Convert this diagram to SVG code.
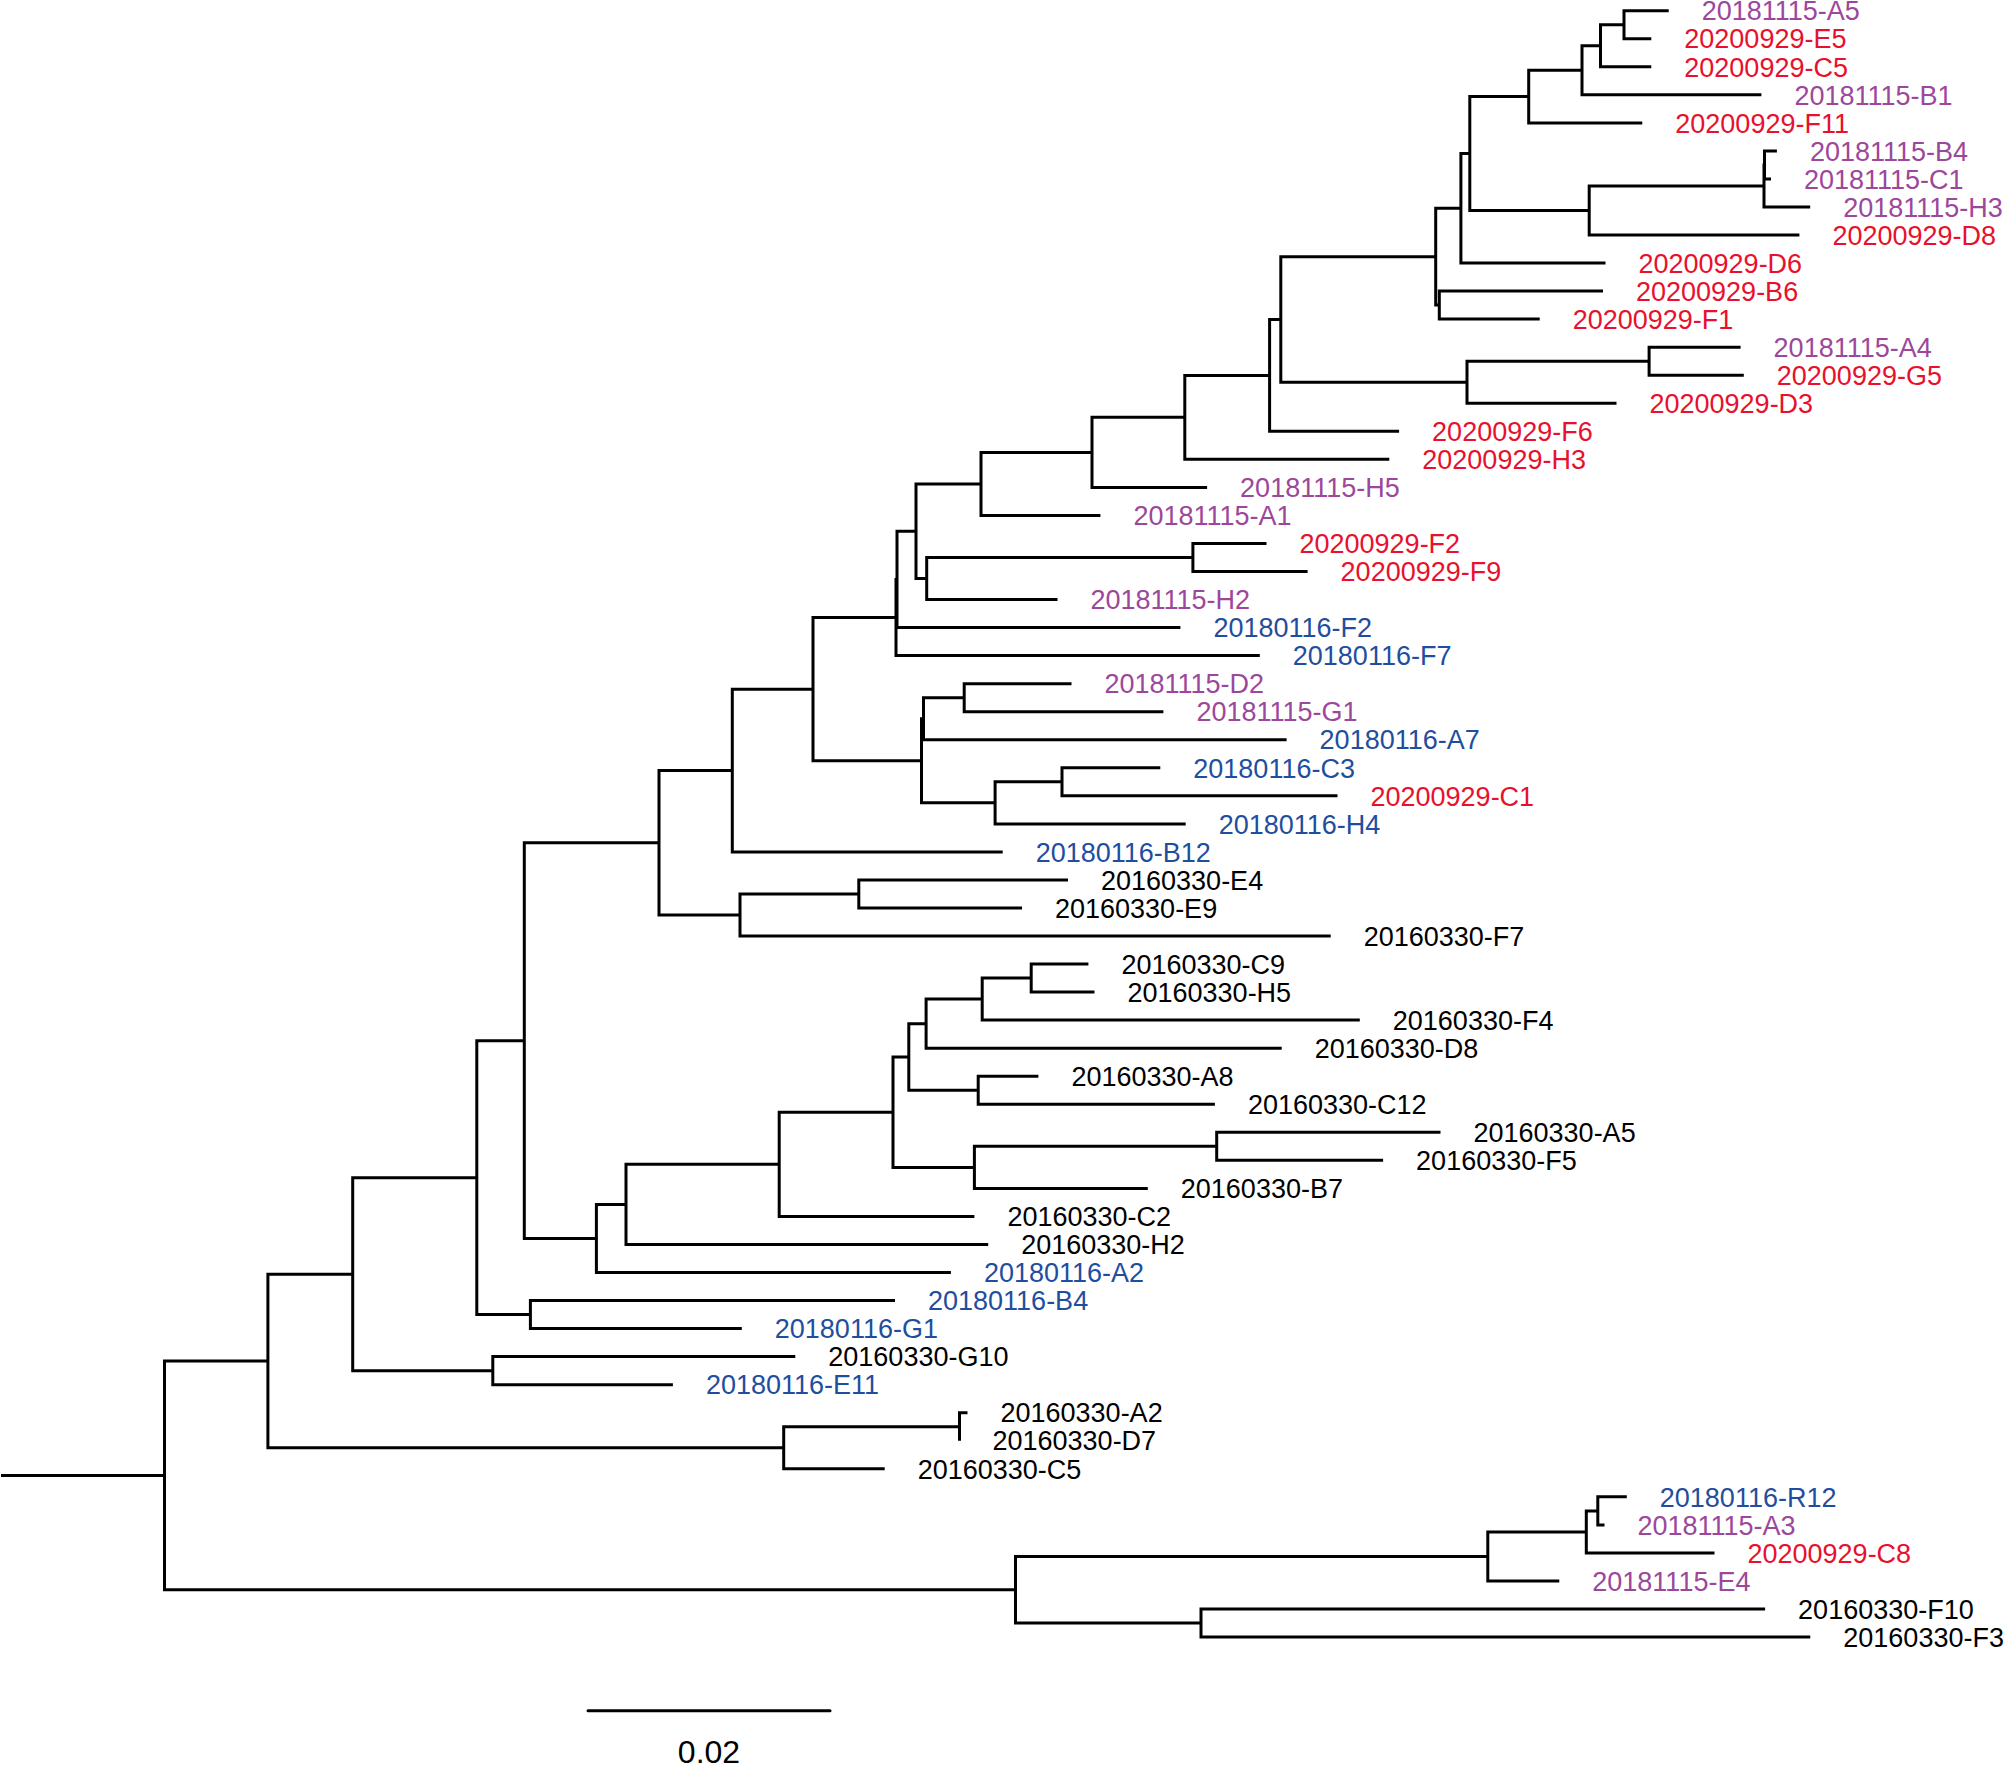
<svg xmlns="http://www.w3.org/2000/svg" width="2008" height="1766" viewBox="0 0 2008 1766">
<style>
.br{fill:none;stroke:#000;stroke-width:3;stroke-linejoin:miter;stroke-linecap:butt}
.lbl{font-family:"Liberation Sans",Arial,Helvetica,sans-serif;font-size:27px}
.p{fill:#9C479B}.r{fill:#E8112D}.b{fill:#1F4E9E}.k{fill:#000}
</style>
<rect x="0" y="0" width="2008" height="1766" fill="#fff"/>
<g id="connectors">
<path class="br" d="M1668.7,10.7H1624V38.7H1651.3"/>
<path class="br" d="M1624,24.7H1600.5V66.8H1651.3"/>
<path class="br" d="M1600.5,45.8H1582V94.8H1761.4"/>
<path class="br" d="M1582,70.3H1528.7V122.9H1642.3"/>
<path class="br" d="M1776.9,150.9H1764.5V178.9H1771"/>
<path class="br" d="M1764.5,164.9H1764V207H1810.2"/>
<path class="br" d="M1764,186H1589.2V235H1799.4"/>
<path class="br" d="M1528.7,96.6H1469.8V210.5H1589.2"/>
<path class="br" d="M1469.8,153.6H1460.9V263.1H1605.5"/>
<path class="br" d="M1603,291.1H1439.3V319.1H1539.7"/>
<path class="br" d="M1460.9,208.3H1435.7V305.1H1439.3"/>
<path class="br" d="M1740.6,347.2H1649.1V375.2H1743.8"/>
<path class="br" d="M1649.1,361.2H1467V403.3H1616.5"/>
<path class="br" d="M1435.7,256.7H1280.8V382.2H1467"/>
<path class="br" d="M1280.8,319.5H1269.6V431.3H1399.1"/>
<path class="br" d="M1269.6,375.4H1184.8V459.3H1389.3"/>
<path class="br" d="M1184.8,417.3H1092V487.4H1207.1"/>
<path class="br" d="M1092,452.4H981V515.4H1100.4"/>
<path class="br" d="M1266.5,543.5H1192.9V571.5H1307.6"/>
<path class="br" d="M1192.9,557.5H926.7V599.5H1057.5"/>
<path class="br" d="M981,483.9H916V578.5H926.7"/>
<path class="br" d="M916,531.2H897V627.6H1180.4"/>
<path class="br" d="M897,579.4H896V655.6H1259.8"/>
<path class="br" d="M1071.5,683.7H964.2V711.7H1163.4"/>
<path class="br" d="M964.2,697.7H923.5V739.7H1286.6"/>
<path class="br" d="M1160.3,767.8H1062V795.8H1337.5"/>
<path class="br" d="M1062,781.8H995.1V823.9H1185.7"/>
<path class="br" d="M923.5,718.7H921.5V802.8H995.1"/>
<path class="br" d="M896,617.5H813V760.8H921.5"/>
<path class="br" d="M813,689.2H732.3V851.9H1002.7"/>
<path class="br" d="M1068,879.9H858.8V908H1022"/>
<path class="br" d="M858.8,894H740V936H1330.7"/>
<path class="br" d="M732.3,770.5H659V915H740"/>
<path class="br" d="M1088.4,964.1H1031.2V992.1H1094.5"/>
<path class="br" d="M1031.2,978.1H982.2V1020.1H1359.8"/>
<path class="br" d="M982.2,999.1H926.1V1048.2H1281.7"/>
<path class="br" d="M1038.4,1076.2H978.2V1104.3H1214.9"/>
<path class="br" d="M926.1,1023.7H908.8V1090.2H978.2"/>
<path class="br" d="M1440.5,1132.3H1216.7V1160.3H1383.1"/>
<path class="br" d="M1216.7,1146.3H974.4V1188.4H1147.8"/>
<path class="br" d="M908.8,1057H893V1167.4H974.4"/>
<path class="br" d="M893,1112.2H779.2V1216.4H974.4"/>
<path class="br" d="M779.2,1164.3H626V1244.5H988.2"/>
<path class="br" d="M626,1204.4H596.4V1272.5H950.9"/>
<path class="br" d="M659,842.8H524.3V1238.5H596.4"/>
<path class="br" d="M895,1300.5H530.4V1328.6H741.8"/>
<path class="br" d="M524.3,1040.7H476.8V1314.6H530.4"/>
<path class="br" d="M795.3,1356.6H492.8V1384.7H672.9"/>
<path class="br" d="M476.8,1177.7H352.7V1370.7H492.8"/>
<path class="br" d="M967.5,1412.7H959.5V1440.7"/>
<path class="br" d="M959.5,1426.7H783.7V1468.8H884.7"/>
<path class="br" d="M352.7,1274.2H267.9V1447.8H783.7"/>
<path class="br" d="M1626.8,1496.8H1597.8V1524.9H1604.5"/>
<path class="br" d="M1597.8,1510.9H1586.3V1552.9H1714.5"/>
<path class="br" d="M1586.3,1531.9H1487.8V1581H1559.3"/>
<path class="br" d="M1765.1,1609H1201V1637.1H1810.3"/>
<path class="br" d="M1487.8,1556.5H1015.5V1623H1201"/>
<path class="br" d="M267.9,1361H164.5V1589.8H1015.5"/>
<path class="br" d="M1,1475.4H164.5"/>
</g>
<g id="leaf-20181115-A5"><text class="lbl p" x="1701.7" y="20.4">20181115-A5</text></g>
<g id="leaf-20200929-E5"><text class="lbl r" x="1684.3" y="48.4">20200929-E5</text></g>
<g id="leaf-20200929-C5"><text class="lbl r" x="1684.3" y="76.5">20200929-C5</text></g>
<g id="leaf-20181115-B1"><text class="lbl p" x="1794.4" y="104.5">20181115-B1</text></g>
<g id="leaf-20200929-F11"><text class="lbl r" x="1675.3" y="132.6">20200929-F11</text></g>
<g id="leaf-20181115-B4"><text class="lbl p" x="1809.9" y="160.6">20181115-B4</text></g>
<g id="leaf-20181115-C1"><text class="lbl p" x="1804" y="188.6">20181115-C1</text></g>
<g id="leaf-20181115-H3"><text class="lbl p" x="1843.2" y="216.7">20181115-H3</text></g>
<g id="leaf-20200929-D8"><text class="lbl r" x="1832.4" y="244.7">20200929-D8</text></g>
<g id="leaf-20200929-D6"><text class="lbl r" x="1638.5" y="272.8">20200929-D6</text></g>
<g id="leaf-20200929-B6"><text class="lbl r" x="1636" y="300.8">20200929-B6</text></g>
<g id="leaf-20200929-F1"><text class="lbl r" x="1572.7" y="328.8">20200929-F1</text></g>
<g id="leaf-20181115-A4"><text class="lbl p" x="1773.6" y="356.9">20181115-A4</text></g>
<g id="leaf-20200929-G5"><text class="lbl r" x="1776.8" y="384.9">20200929-G5</text></g>
<g id="leaf-20200929-D3"><text class="lbl r" x="1649.5" y="413">20200929-D3</text></g>
<g id="leaf-20200929-F6"><text class="lbl r" x="1432.1" y="441">20200929-F6</text></g>
<g id="leaf-20200929-H3"><text class="lbl r" x="1422.3" y="469">20200929-H3</text></g>
<g id="leaf-20181115-H5"><text class="lbl p" x="1240.1" y="497.1">20181115-H5</text></g>
<g id="leaf-20181115-A1"><text class="lbl p" x="1133.4" y="525.1">20181115-A1</text></g>
<g id="leaf-20200929-F2"><text class="lbl r" x="1299.5" y="553.2">20200929-F2</text></g>
<g id="leaf-20200929-F9"><text class="lbl r" x="1340.6" y="581.2">20200929-F9</text></g>
<g id="leaf-20181115-H2"><text class="lbl p" x="1090.5" y="609.2">20181115-H2</text></g>
<g id="leaf-20180116-F2"><text class="lbl b" x="1213.4" y="637.3">20180116-F2</text></g>
<g id="leaf-20180116-F7"><text class="lbl b" x="1292.8" y="665.3">20180116-F7</text></g>
<g id="leaf-20181115-D2"><text class="lbl p" x="1104.5" y="693.4">20181115-D2</text></g>
<g id="leaf-20181115-G1"><text class="lbl p" x="1196.4" y="721.4">20181115-G1</text></g>
<g id="leaf-20180116-A7"><text class="lbl b" x="1319.6" y="749.4">20180116-A7</text></g>
<g id="leaf-20180116-C3"><text class="lbl b" x="1193.3" y="777.5">20180116-C3</text></g>
<g id="leaf-20200929-C1"><text class="lbl r" x="1370.5" y="805.5">20200929-C1</text></g>
<g id="leaf-20180116-H4"><text class="lbl b" x="1218.7" y="833.6">20180116-H4</text></g>
<g id="leaf-20180116-B12"><text class="lbl b" x="1035.7" y="861.6">20180116-B12</text></g>
<g id="leaf-20160330-E4"><text class="lbl k" x="1101" y="889.6">20160330-E4</text></g>
<g id="leaf-20160330-E9"><text class="lbl k" x="1055" y="917.7">20160330-E9</text></g>
<g id="leaf-20160330-F7"><text class="lbl k" x="1363.7" y="945.7">20160330-F7</text></g>
<g id="leaf-20160330-C9"><text class="lbl k" x="1121.4" y="973.8">20160330-C9</text></g>
<g id="leaf-20160330-H5"><text class="lbl k" x="1127.5" y="1001.8">20160330-H5</text></g>
<g id="leaf-20160330-F4"><text class="lbl k" x="1392.8" y="1029.8">20160330-F4</text></g>
<g id="leaf-20160330-D8"><text class="lbl k" x="1314.7" y="1057.9">20160330-D8</text></g>
<g id="leaf-20160330-A8"><text class="lbl k" x="1071.4" y="1085.9">20160330-A8</text></g>
<g id="leaf-20160330-C12"><text class="lbl k" x="1247.9" y="1114">20160330-C12</text></g>
<g id="leaf-20160330-A5"><text class="lbl k" x="1473.5" y="1142">20160330-A5</text></g>
<g id="leaf-20160330-F5"><text class="lbl k" x="1416.1" y="1170">20160330-F5</text></g>
<g id="leaf-20160330-B7"><text class="lbl k" x="1180.8" y="1198.1">20160330-B7</text></g>
<g id="leaf-20160330-C2"><text class="lbl k" x="1007.4" y="1226.1">20160330-C2</text></g>
<g id="leaf-20160330-H2"><text class="lbl k" x="1021.2" y="1254.2">20160330-H2</text></g>
<g id="leaf-20180116-A2"><text class="lbl b" x="983.9" y="1282.2">20180116-A2</text></g>
<g id="leaf-20180116-B4"><text class="lbl b" x="928" y="1310.2">20180116-B4</text></g>
<g id="leaf-20180116-G1"><text class="lbl b" x="774.8" y="1338.3">20180116-G1</text></g>
<g id="leaf-20160330-G10"><text class="lbl k" x="828.3" y="1366.3">20160330-G10</text></g>
<g id="leaf-20180116-E11"><text class="lbl b" x="705.9" y="1394.4">20180116-E11</text></g>
<g id="leaf-20160330-A2"><text class="lbl k" x="1000.5" y="1422.4">20160330-A2</text></g>
<g id="leaf-20160330-D7"><text class="lbl k" x="992.5" y="1450.4">20160330-D7</text></g>
<g id="leaf-20160330-C5"><text class="lbl k" x="917.7" y="1478.5">20160330-C5</text></g>
<g id="leaf-20180116-R12"><text class="lbl b" x="1659.8" y="1506.5">20180116-R12</text></g>
<g id="leaf-20181115-A3"><text class="lbl p" x="1637.5" y="1534.6">20181115-A3</text></g>
<g id="leaf-20200929-C8"><text class="lbl r" x="1747.5" y="1562.6">20200929-C8</text></g>
<g id="leaf-20181115-E4"><text class="lbl p" x="1592.3" y="1590.7">20181115-E4</text></g>
<g id="leaf-20160330-F10"><text class="lbl k" x="1798.1" y="1618.7">20160330-F10</text></g>
<g id="leaf-20160330-F3"><text class="lbl k" x="1843.3" y="1646.8">20160330-F3</text></g>
<g id="scale-bar">
<line x1="588" y1="1710.7" x2="830" y2="1710.7" stroke="#000" stroke-width="3" stroke-linecap="round"/>
<text x="709" y="1763" text-anchor="middle" font-family="Liberation Sans, Arial, sans-serif" font-size="32" fill="#000">0.02</text>
</g>
</svg>
